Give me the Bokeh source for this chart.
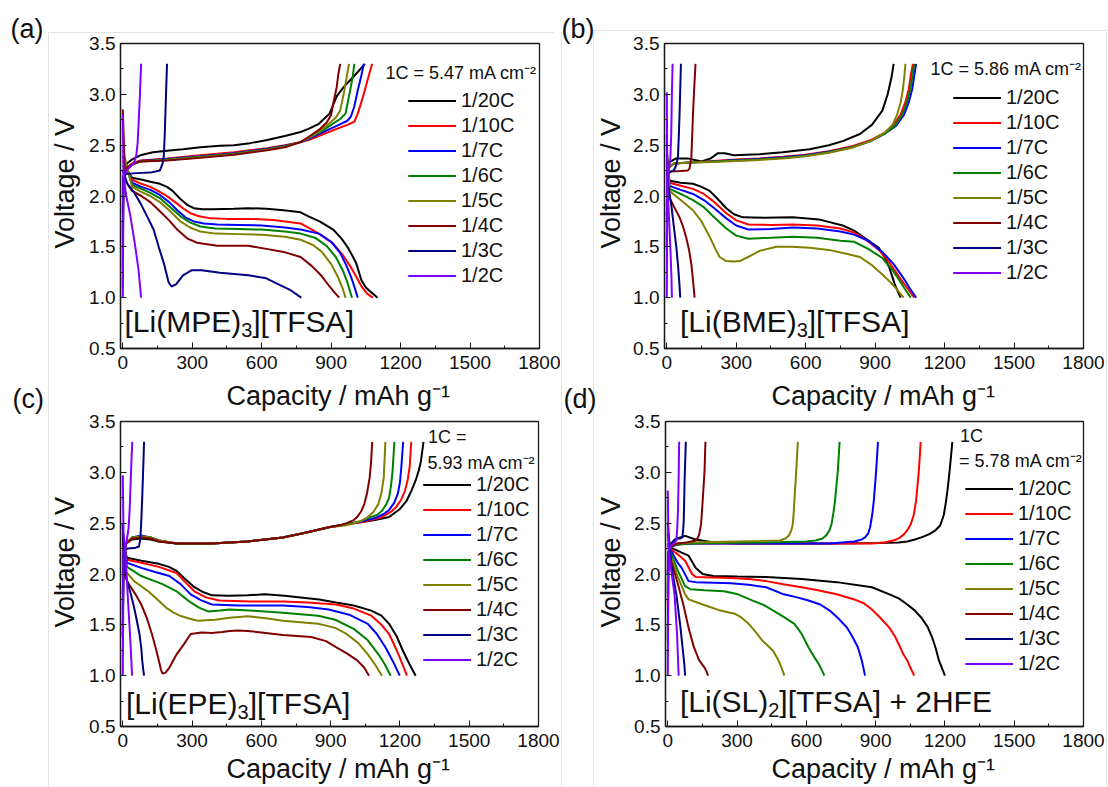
from bokeh.embed import file_html
from bokeh.layouts import column, row
from bokeh.models import FixedTicker, Label, Legend, LegendItem, Range1d, Title
from bokeh.plotting import figure
from bokeh.resources import INLINE

# ---------------------------------------------------------------- shared
RATES = ["1/20C", "1/10C", "1/7C", "1/6C", "1/5C", "1/4C", "1/3C", "1/2C"]
RATE_COLORS = ["#000000", "#ff0000", "#0000ff", "#008000",
               "#808000", "#800000", "#000080", "#8000ff"]

X_TICKS = [0, 300, 600, 900, 1200, 1500, 1800]
Y_TICKS = [0.5, 1.0, 1.5, 2.0, 2.5, 3.0, 3.5]

# ---------------------------------------------------------------- (a) [Li(MPE)3][TFSA]
MPE_DISCHARGE = {
    "1/20C": ([0, 40, 84, 119, 160, 191, 215, 249, 280, 307, 344, 389, 480, 542, 620, 695, 768, 802, 850, 909, 945, 970, 990, 1008, 1031, 1050, 1069, 1085, 1100],
              [2.30, 2.18, 2.16, 2.14, 2.12, 2.09, 2.05, 1.97, 1.91, 1.88, 1.87, 1.87, 1.875, 1.88, 1.875, 1.86, 1.84, 1.80, 1.75, 1.67, 1.58, 1.50, 1.42, 1.34, 1.17, 1.10, 1.06, 1.03, 1.0]),
    "1/10C": ([0, 40, 80, 119, 160, 190, 220, 260, 292, 330, 379, 450, 550, 650, 768, 817, 860, 909, 950, 985, 1010, 1031, 1055, 1080],
              [2.35, 2.16, 2.12, 2.09, 2.04, 2.00, 1.95, 1.88, 1.83, 1.80, 1.78, 1.775, 1.775, 1.765, 1.73, 1.67, 1.61, 1.53, 1.42, 1.30, 1.20, 1.11, 1.04, 1.0]),
    "1/7C": ([0, 40, 80, 119, 160, 200, 235, 270, 307, 350, 408, 500, 600, 700, 768, 847, 900, 939, 965, 985, 1000, 1015],
             [2.40, 2.13, 2.09, 2.06, 2.01, 1.94, 1.86, 1.79, 1.75, 1.73, 1.72, 1.715, 1.71, 1.69, 1.67, 1.63, 1.55, 1.44, 1.32, 1.21, 1.11, 1.0]),
    "1/6C": ([0, 40, 80, 119, 160, 200, 249, 290, 335, 400, 500, 600, 700, 768, 830, 880, 920, 950, 970, 990],
             [2.40, 2.11, 2.07, 2.03, 1.98, 1.90, 1.80, 1.74, 1.70, 1.68, 1.675, 1.67, 1.65, 1.63, 1.59, 1.51, 1.40, 1.27, 1.15, 1.0]),
    "1/5C": ([0, 40, 80, 119, 160, 200, 249, 290, 335, 400, 500, 600, 700, 768, 820, 860, 900, 930, 950, 962],
             [2.45, 2.09, 2.04, 2.00, 1.94, 1.86, 1.75, 1.69, 1.65, 1.63, 1.625, 1.62, 1.60, 1.57, 1.52, 1.45, 1.33, 1.20, 1.09, 1.0]),
    "1/4C": ([0, 10, 40, 80, 119, 160, 200, 235, 280, 321, 408, 542, 620, 695, 768, 817, 860, 893, 915, 935],
             [2.85, 2.15, 2.05, 2.00, 1.94, 1.85, 1.76, 1.67, 1.58, 1.54, 1.51, 1.51, 1.48, 1.45, 1.40, 1.31, 1.21, 1.11, 1.05, 1.0]),
    "1/3C": ([0, 20, 50, 76, 105, 133, 155, 177, 198, 210, 230, 260, 298, 340, 420, 542, 620, 664, 720, 771],
             [2.25, 2.12, 2.03, 1.93, 1.80, 1.67, 1.50, 1.34, 1.15, 1.11, 1.13, 1.22, 1.27, 1.27, 1.245, 1.22, 1.19, 1.14, 1.08, 1.0]),
    "1/2C": ([0, 3, 15, 33, 54, 68, 79],
             [2.80, 2.20, 2.00, 1.80, 1.50, 1.27, 1.0]),
}
MPE_CHARGE = {
    "1/20C": ([0, 2, 8, 18, 40, 76, 130, 191, 260, 335, 420, 480, 550, 624, 700, 768, 802, 847, 893, 924, 950, 970, 995, 1015, 1046],
              [1.30, 2.15, 2.25, 2.32, 2.36, 2.40, 2.43, 2.445, 2.46, 2.48, 2.495, 2.50, 2.52, 2.55, 2.59, 2.63, 2.66, 2.71, 2.81, 2.98, 3.06, 3.11, 3.17, 3.22, 3.30]),
    "1/10C": ([0, 2, 8, 18, 40, 76, 191, 335, 480, 624, 700, 768, 802, 847, 924, 970, 1000, 1015, 1038, 1061, 1077],
              [1.47, 2.15, 2.22, 2.28, 2.32, 2.35, 2.37, 2.40, 2.43, 2.47, 2.50, 2.53, 2.55, 2.59, 2.66, 2.70, 2.73, 2.81, 2.98, 3.17, 3.30]),
    "1/7C": ([0, 2, 8, 18, 40, 76, 191, 335, 480, 624, 700, 768, 802, 847, 924, 970, 985, 1000, 1015, 1031, 1041],
             [1.57, 2.15, 2.22, 2.28, 2.31, 2.345, 2.365, 2.39, 2.42, 2.465, 2.495, 2.53, 2.56, 2.61, 2.69, 2.74, 2.78, 2.88, 3.04, 3.19, 3.30]),
    "1/6C": ([0, 2, 8, 18, 40, 76, 191, 335, 480, 624, 700, 768, 802, 847, 900, 940, 962, 977, 993, 1000],
             [1.63, 2.15, 2.22, 2.28, 2.31, 2.34, 2.36, 2.385, 2.415, 2.46, 2.49, 2.53, 2.57, 2.62, 2.70, 2.76, 2.81, 2.98, 3.17, 3.30]),
    "1/5C": ([0, 2, 8, 18, 40, 76, 191, 335, 480, 624, 700, 768, 802, 847, 890, 920, 939, 954, 967, 977],
             [1.70, 2.15, 2.22, 2.28, 2.31, 2.34, 2.355, 2.38, 2.41, 2.455, 2.485, 2.53, 2.57, 2.63, 2.71, 2.77, 2.84, 3.00, 3.17, 3.30]),
    "1/4C": ([0, 2, 8, 18, 40, 76, 191, 335, 480, 624, 700, 768, 802, 847, 880, 900, 909, 924, 931, 939],
             [1.83, 2.15, 2.22, 2.28, 2.31, 2.34, 2.35, 2.375, 2.405, 2.45, 2.48, 2.53, 2.58, 2.65, 2.72, 2.80, 2.91, 3.07, 3.20, 3.30]),
    "1/3C": ([0, 2, 20, 60, 120, 160, 172, 177, 181, 184, 188, 191],
             [1.10, 2.20, 2.22, 2.225, 2.23, 2.25, 2.32, 2.39, 2.60, 2.81, 3.10, 3.30]),
    "1/2C": ([0, 3, 20, 47, 58, 64, 69, 74, 79],
             [1.00, 2.20, 2.26, 2.32, 2.40, 2.52, 2.75, 3.00, 3.30]),
}

# ---------------------------------------------------------------- (b) [Li(BME)3][TFSA]
BME_DISCHARGE = {
    "1/20C": ([0, 12, 60, 113, 150, 185, 220, 257, 290, 329, 420, 545, 657, 760, 809, 860, 916, 940, 962, 985, 1000, 1010],
              [2.30, 2.15, 2.13, 2.12, 2.09, 2.05, 1.97, 1.88, 1.82, 1.79, 1.785, 1.79, 1.77, 1.71, 1.66, 1.58, 1.49, 1.40, 1.29, 1.13, 1.05, 1.0]),
    "1/10C": ([0, 12, 60, 113, 160, 200, 257, 300, 352, 450, 545, 650, 750, 809, 860, 916, 960, 1008, 1040, 1069],
              [2.35, 2.13, 2.10, 2.07, 2.02, 1.95, 1.83, 1.76, 1.72, 1.715, 1.72, 1.71, 1.68, 1.64, 1.57, 1.47, 1.35, 1.19, 1.09, 1.0]),
    "1/7C": ([0, 12, 60, 113, 160, 200, 257, 300, 352, 450, 545, 650, 750, 809, 870, 931, 980, 1023, 1050, 1077],
             [2.40, 2.10, 2.06, 2.02, 1.96, 1.89, 1.78, 1.71, 1.67, 1.675, 1.69, 1.68, 1.65, 1.62, 1.56, 1.45, 1.33, 1.19, 1.09, 1.0]),
    "1/6C": ([0, 12, 60, 113, 160, 200, 257, 300, 352, 450, 545, 650, 750, 809, 870, 931, 975, 1008, 1030, 1054],
             [2.40, 2.07, 2.02, 1.96, 1.89, 1.80, 1.68, 1.61, 1.58, 1.59, 1.60, 1.59, 1.56, 1.55, 1.48, 1.39, 1.27, 1.16, 1.08, 1.0]),
    "1/5C": ([0, 12, 60, 113, 150, 185, 210, 228, 257, 290, 315, 360, 401, 473, 540, 617, 700, 780, 834, 886, 930, 962, 995, 1023],
             [2.45, 2.05, 1.96, 1.86, 1.75, 1.60, 1.48, 1.40, 1.36, 1.355, 1.36, 1.41, 1.46, 1.50, 1.50, 1.49, 1.47, 1.43, 1.40, 1.32, 1.23, 1.16, 1.08, 1.0]),
    "1/4C": ([0, 4, 12, 30, 55, 70, 84, 96, 106, 114, 120],
             [2.50, 2.15, 1.98, 1.90, 1.79, 1.70, 1.59, 1.47, 1.33, 1.15, 1.0]),
    "1/3C": ([0, 3, 10, 19, 33, 41, 48, 54, 58],
             [2.60, 2.15, 2.05, 1.92, 1.65, 1.50, 1.33, 1.15, 1.0]),
    "1/2C": ([0, 2, 6, 12, 16, 20, 22],
             [3.02, 2.20, 1.95, 1.66, 1.45, 1.20, 1.0]),
}
BME_CHARGE = {
    "1/20C": ([0, 3, 10, 40, 90, 150, 190, 220, 250, 290, 400, 500, 617, 700, 760, 834, 886, 931, 954, 970, 980],
              [1.47, 2.20, 2.33, 2.37, 2.37, 2.34, 2.37, 2.42, 2.42, 2.40, 2.41, 2.43, 2.46, 2.50, 2.54, 2.61, 2.70, 2.84, 3.00, 3.16, 3.30]),
    "1/10C": ([0, 3, 10, 30, 100, 200, 300, 400, 500, 600, 700, 800, 880, 940, 980, 1010, 1030, 1045, 1055, 1063],
              [1.60, 2.20, 2.28, 2.32, 2.33, 2.345, 2.36, 2.37, 2.385, 2.405, 2.44, 2.49, 2.55, 2.62, 2.70, 2.80, 2.92, 3.05, 3.20, 3.30]),
    "1/7C": ([0, 3, 10, 30, 100, 200, 300, 400, 500, 600, 700, 800, 880, 940, 990, 1025, 1045, 1060, 1070, 1077],
             [1.75, 2.20, 2.28, 2.32, 2.33, 2.34, 2.355, 2.365, 2.38, 2.40, 2.435, 2.48, 2.54, 2.61, 2.69, 2.80, 2.92, 3.05, 3.20, 3.30]),
    "1/6C": ([0, 3, 10, 30, 100, 200, 300, 400, 500, 600, 700, 800, 880, 940, 985, 1017, 1037, 1052, 1062, 1069],
             [1.82, 2.20, 2.28, 2.32, 2.33, 2.34, 2.35, 2.36, 2.375, 2.395, 2.43, 2.48, 2.54, 2.61, 2.69, 2.80, 2.92, 3.05, 3.20, 3.30]),
    "1/5C": ([0, 3, 10, 30, 100, 200, 300, 400, 500, 600, 700, 800, 880, 940, 975, 995, 1010, 1020, 1027, 1031],
             [1.80, 2.20, 2.28, 2.32, 2.33, 2.335, 2.345, 2.355, 2.37, 2.39, 2.425, 2.475, 2.54, 2.62, 2.70, 2.80, 2.92, 3.05, 3.20, 3.30]),
    "1/4C": ([0, 3, 20, 60, 90, 98, 106, 113, 118, 124],
             [1.90, 2.22, 2.24, 2.245, 2.25, 2.27, 2.38, 2.80, 3.05, 3.30]),
    "1/3C": ([0, 3, 15, 30, 40, 48, 52, 55, 58, 61],
             [1.50, 2.22, 2.24, 2.25, 2.30, 2.38, 2.60, 2.80, 3.05, 3.30]),
    "1/2C": ([0, 2, 8, 15, 19, 22, 25],
             [1.00, 2.20, 2.25, 2.35, 2.60, 3.00, 3.30]),
}

# ---------------------------------------------------------------- (c) [Li(EPE)3][TFSA]
EPE_DISCHARGE = {
    "1/20C": ([0, 18, 80, 156, 200, 233, 270, 310, 350, 386, 460, 540, 616, 700, 770, 850, 923, 1000, 1076, 1120, 1153, 1185, 1214, 1240, 1268],
              [2.30, 2.16, 2.13, 2.10, 2.07, 2.03, 1.95, 1.87, 1.82, 1.79, 1.785, 1.79, 1.80, 1.785, 1.77, 1.75, 1.72, 1.69, 1.64, 1.59, 1.51, 1.39, 1.24, 1.12, 1.0]),
    "1/10C": ([0, 18, 80, 156, 233, 270, 310, 360, 417, 550, 693, 800, 923, 1000, 1076, 1120, 1153, 1180, 1199, 1215, 1230],
              [2.35, 2.14, 2.11, 2.07, 2.01, 1.92, 1.83, 1.77, 1.74, 1.73, 1.73, 1.72, 1.70, 1.66, 1.59, 1.50, 1.41, 1.28, 1.18, 1.09, 1.0]),
    "1/7C": ([0, 18, 80, 140, 202, 250, 294, 340, 386, 500, 693, 800, 892, 980, 1061, 1100, 1137, 1170, 1199],
             [2.40, 2.11, 2.06, 2.02, 1.98, 1.90, 1.80, 1.74, 1.70, 1.69, 1.69, 1.675, 1.65, 1.60, 1.51, 1.41, 1.28, 1.14, 1.0]),
    "1/6C": ([0, 18, 80, 126, 172, 233, 260, 294, 330, 371, 420, 463, 550, 693, 846, 920, 1000, 1060, 1107, 1135, 1160],
             [2.40, 2.07, 1.98, 1.94, 1.90, 1.83, 1.78, 1.72, 1.67, 1.63, 1.64, 1.65, 1.64, 1.62, 1.59, 1.55, 1.46, 1.35, 1.21, 1.11, 1.0]),
    "1/5C": ([0, 15, 49, 80, 110, 150, 187, 220, 248, 290, 325, 400, 463, 540, 620, 693, 846, 920, 969, 1020, 1061, 1095, 1122],
             [2.45, 2.02, 1.93, 1.88, 1.83, 1.75, 1.67, 1.62, 1.59, 1.56, 1.54, 1.55, 1.57, 1.585, 1.565, 1.54, 1.51, 1.47, 1.41, 1.32, 1.21, 1.10, 1.0]),
    "1/4C": ([0, 5, 26, 55, 80, 105, 126, 145, 156, 165, 172, 185, 202, 233, 265, 294, 340, 386, 430, 463, 500, 540, 600, 693, 816, 880, 923, 970, 1015, 1045, 1066],
             [2.50, 2.00, 1.90, 1.80, 1.70, 1.56, 1.41, 1.25, 1.15, 1.06, 1.02, 1.03, 1.08, 1.21, 1.31, 1.41, 1.425, 1.42, 1.43, 1.44, 1.445, 1.44, 1.425, 1.40, 1.38, 1.34, 1.28, 1.22, 1.15, 1.08, 1.0]),
    "1/3C": ([0, 5, 18, 35, 49, 60, 72, 80, 84, 88, 92],
             [2.50, 2.10, 1.93, 1.80, 1.67, 1.55, 1.41, 1.27, 1.15, 1.07, 1.0]),
    "1/2C": ([0, 3, 11, 21, 31, 36, 40],
             [2.97, 2.40, 2.23, 1.80, 1.41, 1.20, 1.0]),
}
EPE_CHARGE = {
    "1/20C": ([0, 3, 15, 40, 80, 120, 156, 233, 386, 540, 693, 800, 892, 969, 1030, 1092, 1153, 1200, 1229, 1250, 1268, 1282, 1291, 1302],
              [1.37, 2.20, 2.30, 2.34, 2.35, 2.34, 2.32, 2.30, 2.30, 2.32, 2.36, 2.41, 2.46, 2.49, 2.51, 2.53, 2.56, 2.64, 2.72, 2.82, 2.92, 3.02, 3.11, 3.30]),
    "1/10C": ([0, 3, 15, 40, 80, 120, 156, 233, 386, 540, 693, 800, 892, 969, 1061, 1122, 1160, 1184, 1205, 1222, 1234, 1242, 1249],
              [1.50, 2.20, 2.30, 2.35, 2.37, 2.36, 2.33, 2.30, 2.30, 2.32, 2.36, 2.41, 2.46, 2.49, 2.52, 2.56, 2.61, 2.66, 2.73, 2.82, 2.93, 3.05, 3.30]),
    "1/7C": ([0, 3, 15, 40, 80, 120, 156, 233, 386, 540, 693, 800, 892, 969, 1040, 1092, 1130, 1153, 1175, 1191, 1200, 1206, 1214],
             [1.60, 2.20, 2.30, 2.36, 2.38, 2.36, 2.33, 2.30, 2.30, 2.32, 2.36, 2.41, 2.46, 2.49, 2.52, 2.55, 2.59, 2.63, 2.70, 2.79, 2.90, 3.05, 3.30]),
    "1/6C": ([0, 3, 15, 40, 80, 120, 156, 233, 386, 540, 693, 800, 892, 969, 1030, 1061, 1100, 1122, 1142, 1153, 1162, 1168, 1176],
             [1.65, 2.20, 2.30, 2.36, 2.37, 2.36, 2.33, 2.30, 2.30, 2.32, 2.36, 2.41, 2.46, 2.49, 2.52, 2.55, 2.58, 2.62, 2.69, 2.75, 2.88, 3.01, 3.30]),
    "1/5C": ([0, 3, 15, 40, 80, 120, 156, 233, 386, 540, 693, 800, 892, 969, 1000, 1030, 1061, 1085, 1107, 1120, 1130, 1137],
             [1.70, 2.20, 2.30, 2.36, 2.37, 2.36, 2.33, 2.30, 2.30, 2.32, 2.36, 2.41, 2.46, 2.48, 2.50, 2.52, 2.56, 2.61, 2.69, 2.80, 2.95, 3.30]),
    "1/4C": ([0, 3, 15, 40, 80, 120, 156, 233, 386, 540, 693, 800, 892, 940, 969, 1000, 1015, 1033, 1046, 1058, 1069, 1075, 1080],
             [1.80, 2.20, 2.30, 2.35, 2.36, 2.35, 2.32, 2.30, 2.30, 2.32, 2.36, 2.41, 2.46, 2.48, 2.50, 2.53, 2.56, 2.62, 2.69, 2.80, 2.95, 3.10, 3.30]),
    "1/3C": ([0, 3, 20, 50, 70, 76, 80, 84, 87, 90, 92],
             [1.40, 2.23, 2.25, 2.255, 2.27, 2.35, 2.52, 2.75, 2.95, 3.15, 3.30]),
    "1/2C": ([0, 3, 15, 25, 30, 34, 38, 41],
             [1.00, 2.20, 2.30, 2.45, 2.65, 2.90, 3.15, 3.30]),
}

# ---------------------------------------------------------------- (d) [Li(SL)2][TFSA] + 2HFE
SL_DISCHARGE = {
    "1/20C": ([0, 14, 60, 90, 121, 151, 197, 300, 426, 579, 731, 884, 960, 1000, 1037, 1070, 1098, 1125, 1144, 1160, 1174, 1188, 1200],
              [2.30, 2.26, 2.21, 2.18, 2.06, 2.00, 1.98, 1.975, 1.97, 1.95, 1.92, 1.87, 1.80, 1.76, 1.70, 1.64, 1.57, 1.48, 1.38, 1.27, 1.15, 1.07, 1.0]),
    "1/10C": ([0, 14, 45, 75, 105, 121, 200, 273, 350, 426, 500, 579, 650, 731, 808, 850, 884, 920, 960, 985, 1006, 1020, 1037, 1050, 1067],
              [2.30, 2.24, 2.19, 2.13, 2.00, 1.97, 1.965, 1.96, 1.95, 1.93, 1.90, 1.87, 1.84, 1.80, 1.75, 1.71, 1.65, 1.57, 1.47, 1.38, 1.28, 1.21, 1.15, 1.08, 1.0]),
    "1/7C": ([0, 14, 40, 60, 90, 121, 200, 273, 350, 426, 502, 560, 609, 660, 701, 740, 777, 800, 823, 840, 854],
             [2.30, 2.23, 2.12, 2.06, 1.93, 1.92, 1.915, 1.91, 1.895, 1.87, 1.80, 1.77, 1.74, 1.70, 1.64, 1.56, 1.47, 1.38, 1.28, 1.15, 1.0]),
    "1/6C": ([0, 14, 44, 75, 98, 160, 243, 304, 365, 420, 457, 500, 548, 580, 609, 635, 655, 668, 678],
             [2.30, 2.20, 2.03, 1.88, 1.85, 1.84, 1.83, 1.80, 1.74, 1.69, 1.64, 1.58, 1.51, 1.41, 1.28, 1.18, 1.11, 1.05, 1.0]),
    "1/5C": ([0, 14, 44, 75, 90, 151, 228, 289, 320, 350, 380, 411, 440, 457, 475, 487, 497, 505],
             [2.30, 2.16, 1.97, 1.80, 1.75, 1.70, 1.64, 1.61, 1.57, 1.51, 1.43, 1.34, 1.28, 1.24, 1.17, 1.11, 1.05, 1.0]),
    "1/4C": ([0, 14, 44, 67, 90, 113, 136, 159, 168, 174],
             [2.40, 2.13, 1.90, 1.70, 1.47, 1.28, 1.15, 1.08, 1.04, 1.0]),
    "1/3C": ([0, 14, 37, 55, 67, 72, 75],
             [2.50, 2.10, 1.80, 1.47, 1.21, 1.10, 1.0]),
    "1/2C": ([0, 3, 14, 29, 40, 47],
             [2.82, 2.25, 2.05, 1.80, 1.41, 1.0]),
}
SL_CHARGE = {
    "1/20C": ([0, 3, 15, 40, 75, 120, 200, 300, 500, 731, 900, 1000, 1037, 1070, 1098, 1130, 1159, 1180, 1195, 1205, 1213, 1220, 1226, 1232],
              [1.34, 2.20, 2.30, 2.35, 2.375, 2.34, 2.31, 2.30, 2.30, 2.30, 2.305, 2.31, 2.32, 2.34, 2.36, 2.39, 2.43, 2.48, 2.58, 2.72, 2.86, 3.01, 3.15, 3.30]),
    "1/10C": ([0, 3, 15, 40, 100, 200, 500, 800, 884, 940, 976, 1000, 1022, 1040, 1052, 1065, 1075, 1087, 1095],
              [1.70, 2.20, 2.27, 2.29, 2.30, 2.30, 2.30, 2.30, 2.30, 2.31, 2.33, 2.35, 2.39, 2.44, 2.49, 2.58, 2.72, 3.01, 3.30]),
    "1/7C": ([0, 3, 15, 40, 100, 200, 500, 700, 808, 840, 854, 868, 876, 885, 892, 902, 910],
             [1.80, 2.20, 2.27, 2.29, 2.30, 2.30, 2.30, 2.30, 2.32, 2.34, 2.36, 2.40, 2.46, 2.58, 2.72, 3.01, 3.30]),
    "1/6C": ([0, 3, 15, 40, 100, 200, 400, 600, 640, 670, 686, 700, 709, 717, 724, 736, 744],
             [1.85, 2.20, 2.27, 2.29, 2.30, 2.305, 2.31, 2.32, 2.33, 2.35, 2.38, 2.43, 2.49, 2.60, 2.72, 3.01, 3.30]),
    "1/5C": ([0, 3, 15, 40, 100, 200, 300, 400, 487, 510, 525, 535, 541, 545, 548, 556, 563],
             [1.90, 2.20, 2.27, 2.30, 2.31, 2.315, 2.32, 2.325, 2.33, 2.35, 2.38, 2.43, 2.49, 2.60, 2.72, 3.01, 3.30]),
    "1/4C": ([0, 3, 15, 40, 80, 121, 131, 136, 144, 151, 159, 163],
             [2.00, 2.22, 2.27, 2.30, 2.31, 2.33, 2.36, 2.39, 2.49, 2.72, 3.01, 3.30]),
    "1/3C": ([0, 3, 15, 30, 44, 55, 63, 66, 69, 73, 78],
             [2.00, 2.22, 2.30, 2.34, 2.35, 2.35, 2.36, 2.42, 2.52, 2.95, 3.30]),
    "1/2C": ([0, 3, 15, 30, 37, 41, 44, 47, 49],
             [1.00, 2.22, 2.28, 2.31, 2.33, 2.45, 2.62, 2.95, 3.30]),
}

FONT = "Liberation Sans"
INK = "#111111"

# Advance widths (fraction of the em) of Liberation Sans, used to set the
# subscript of the electrolyte names right after the preceding text.
ADVANCE = {"[": 0.278, "]": 0.278, "(": 0.333, ")": 0.333, "L": 0.556, "i": 0.222,
           "M": 0.833, "P": 0.667, "E": 0.667, "B": 0.667, "S": 0.667, "T": 0.611,
           "F": 0.611, "A": 0.667, "H": 0.722, "+": 0.584, " ": 0.278,
           "2": 0.556, "3": 0.556}
NAME_SIZE = 30
SUB_SIZE = 20
SUB_DROP = 8

# Geometry of each panel in its own canvas (pixels, origin top-left).
# The lower row is pulled up by OVERLAP px (its border is transparent) so the
# upper x-axis titles and the lower panel tags can share the same band.
TOP_H = 430
OVERLAP = 58
PANELS = [
    dict(charge=MPE_CHARGE, discharge=MPE_DISCHARGE,
         name=("[Li(MPE)", "3", "][TFSA]"),
         W=560, H=TOP_H, bl=120, bt=43, fw=419, fh=305,
         tag=("(a)", 10, "bottom", 0),
         ylab=(100, 11), xlab=(106, 17, "middle"), name_pos=(124, 321),
         notes=[("1C = 5.47 mA cm\u207b\u00b2", 385, 72)],
         legend=(408, 100)),
    dict(charge=BME_CHARGE, discharge=BME_DISCHARGE,
         name=("[Li(BME)", "3", "][TFSA]"),
         W=548, H=TOP_H, bl=104, bt=43, fw=419, fh=305,
         tag=("(b)", 1, "bottom", 0),
         ylab=(100, 8), xlab=(107, 17, "middle"), name_pos=(119.5, 321),
         notes=[("1C = 5.86 mA cm\u207b\u00b2", 370, 68)],
         legend=(393, 97.5)),
    dict(charge=EPE_CHARGE, discharge=EPE_DISCHARGE,
         name=("[Li(EPE)", "3", "][TFSA]"),
         W=560, H=787 - (TOP_H - OVERLAP), bl=120, bt=49, fw=418, fh=305,
         tag=("(c)", 12, "middle", 13),
         ylab=(99, 11), xlab=(106, 5, "bottom"), name_pos=(125.4, 331),
         notes=[("1C =", 427.6, 64.7), ("5.93 mA cm\u207b\u00b2", 427, 90.3)],
         legend=(423, 112.7)),
    dict(charge=SL_CHARGE, discharge=SL_DISCHARGE,
         name=("[Li(SL)", "2", "][TFSA] + 2HFE"),
         W=548, H=787 - (TOP_H - OVERLAP), bl=105, bt=49, fw=418, fh=305,
         tag=("(d)", 3, "middle", 13),
         ylab=(99, 10), xlab=(106, 5, "bottom"), name_pos=(119.4, 329),
         notes=[("1C", 399.6, 63.7), ("= 5.78 mA cm\u207b\u00b2", 398.6, 88.7)],
         legend=(405, 116)),
]

ROW_H = 23
ROW_GAP = 2

# Thin light-grey rules framing the two panel columns of the page
# (x, y, width, height in page pixels), painted behind the transparent borders.
RULE_COLOR = "#e3e3e3"
RULES = [(48, 32, 1, 755), (48, 32, 506, 1), (561, 32, 1, 755),
         (593, 30, 1, 757), (593, 30, 515, 1), (1106, 30, 1, 757)]


def inner_text(p, cfg, text, cx, cy, size):
    """Text inside the plot frame, given in canvas pixels."""
    p.add_layout(Label(x=cx - cfg["bl"], y=(cfg["bt"] + cfg["fh"]) - cy,
                       x_units="screen", y_units="screen", text=text,
                       text_font=FONT, text_font_size=f"{size}px", text_color=INK,
                       text_align="left", text_baseline="middle"))


def text_width(text, size):
    return sum(ADVANCE[ch] for ch in text) * size


def side_text(text, offset, standoff, valign, size="27px"):
    return Title(text=text, align="left", offset=offset, standoff=standoff,
                 vertical_align=valign, text_font=FONT, text_font_size=size,
                 text_font_style="normal", text_color=INK)


def make_panel(cfg):
    p = figure(width=cfg["W"], height=cfg["H"],
               x_range=Range1d(-10, 1800), y_range=Range1d(0.5, 3.5),
               output_backend="svg", toolbar_location=None,
               min_border_left=cfg["bl"], min_border_top=cfg["bt"],
               min_border_right=cfg["W"] - cfg["bl"] - cfg["fw"],
               min_border_bottom=cfg["H"] - cfg["bt"] - cfg["fh"])
    p.grid.visible = False
    p.background_fill_color = "white"
    p.border_fill_alpha = 0
    p.outline_line_color = "#1a1a1a"
    p.outline_line_width = 1.3

    p.xaxis.ticker = FixedTicker(ticks=X_TICKS,
                                 minor_ticks=[(a + b) / 2 for a, b in zip(X_TICKS, X_TICKS[1:])])
    p.yaxis.ticker = FixedTicker(ticks=Y_TICKS,
                                 minor_ticks=[(a + b) / 2 for a, b in zip(Y_TICKS, Y_TICKS[1:])])
    for ax in (p.xaxis[0], p.yaxis[0]):
        ax.axis_line_color = "#1a1a1a"
        ax.axis_line_width = 1.3
        ax.major_tick_in = 6
        ax.major_tick_out = 0
        ax.minor_tick_in = 3
        ax.minor_tick_out = 0
        ax.major_tick_line_color = "#1a1a1a"
        ax.minor_tick_line_color = "#1a1a1a"
        ax.major_label_text_font = FONT
        ax.major_label_text_font_size = "19px"
        ax.major_label_text_color = INK
    p.xaxis.major_label_standoff = 7
    p.yaxis.major_label_standoff = 5
    p.yaxis.major_label_overrides = {v: f"{v:.1f}" for v in Y_TICKS}

    items = []
    for rate, color in zip(RATES, RATE_COLORS):
        dcap, dvolt = cfg["discharge"][rate]
        ccap, cvolt = cfg["charge"][rate]
        r1 = p.line(dcap, dvolt, line_color=color, line_width=2)
        r2 = p.line(ccap, cvolt, line_color=color, line_width=2)
        items.append(LegendItem(label=rate, renderers=[r1, r2]))

    lx, ly = cfg["legend"]
    n = len(RATES)
    leg_h = n * ROW_H + (n - 1) * ROW_GAP
    top = ly - ROW_H / 2
    p.add_layout(Legend(items=items,
                        location=(lx - cfg["bl"], (cfg["bt"] + cfg["fh"]) - (top + leg_h)),
                        orientation="vertical", glyph_width=48, glyph_height=ROW_H,
                        label_height=ROW_H, spacing=ROW_GAP, label_standoff=5,
                        padding=0, margin=0, border_line_alpha=0, background_fill_alpha=0,
                        label_text_font=FONT, label_text_font_size="20px",
                        label_text_color=INK))

    for text, cx, cy in cfg["notes"]:
        inner_text(p, cfg, text, cx, cy, 18)

    # electrolyte name with a true subscript
    head, sub, tail = cfg["name"]
    nx, ny = cfg["name_pos"]
    inner_text(p, cfg, head, nx, ny, NAME_SIZE)
    sx = nx + text_width(head, NAME_SIZE)
    inner_text(p, cfg, sub, sx, ny + SUB_DROP, SUB_SIZE)
    inner_text(p, cfg, tail, sx + text_width(sub, SUB_SIZE), ny, NAME_SIZE)

    # axis titles and panel tag live in the side panels
    y_off, y_stand = cfg["ylab"]
    p.add_layout(side_text("Voltage / V", y_off, y_stand, "middle"), "left")
    x_off, x_stand, x_valign = cfg["xlab"]
    p.add_layout(side_text("Capacity / mAh g\u207b\u00b9", x_off, x_stand, x_valign), "below")
    tag, tag_x, tag_valign, tag_stand = cfg["tag"]
    p.add_layout(side_text(tag, tag_x - cfg["bl"], tag_stand, tag_valign), "above")
    return p


figs = [make_panel(c) for c in PANELS]

page_style = {
    "background-color": "white",
    "background-image": ", ".join(f"linear-gradient({RULE_COLOR}, {RULE_COLOR})" for _ in RULES),
    "background-position": ", ".join(f"{x}px {y}px" for x, y, _, _ in RULES),
    "background-size": ", ".join(f"{w}px {h}px" for _, _, w, h in RULES),
    "background-repeat": "no-repeat",
}
layout = column(row(figs[0], figs[1]),
                row(figs[2], figs[3], margin=(-OVERLAP, 0, 0, 0)),
                styles=page_style)

open("out.html", "w").write(file_html(layout, INLINE, title="Rate capability"))
